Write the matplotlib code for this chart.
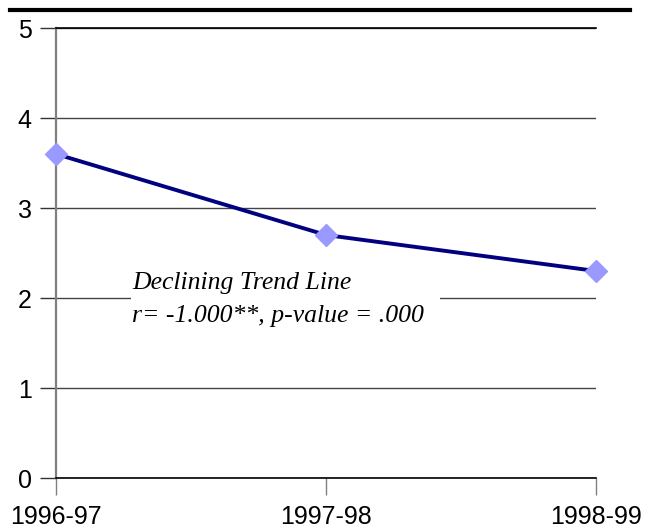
import matplotlib.pyplot as plt
from matplotlib.lines import Line2D
from matplotlib.patches import Rectangle

# chart data
years = ["1996-97", "1997-98", "1998-99"]
values = [3.6, 2.7, 2.3]
y_ticks = [0, 1, 2, 3, 4, 5]
note_lines = ["Declining Trend Line", "r= -1.000**, p-value = .000"]

W, H = 657, 531
fig = plt.figure(figsize=(W / 100, H / 100), dpi=100)
ax = fig.add_axes([56 / W, 1 - 478 / H, 540 / W, 450 / H])

x = list(range(len(years)))
ax.plot(x, values, color="#000080", linewidth=2.8, zorder=4)
ax.plot(x, values, linestyle="none", marker="D", markersize=11,
        markerfacecolor="#9999ff", markeredgecolor="#9999ff", zorder=5,
        clip_on=False)

ax.set_xlim(0, 2)
ax.set_ylim(0, 5)
ax.set_xticks(x)
ax.set_xticklabels(years)
ax.set_yticks(y_ticks)
ax.yaxis.grid(True, color="#444444", linewidth=1.0)
ax.set_axisbelow(True)

ax.spines["right"].set_visible(False)
ax.spines["top"].set_color("black")
ax.spines["bottom"].set_color("black")
ax.spines["top"].set_linewidth(1.2)
ax.spines["bottom"].set_linewidth(1.2)
ax.spines["left"].set_color("#808080")
ax.spines["left"].set_linewidth(1.6)

ax.tick_params(axis="x", direction="out", length=12, width=1.0, color="#808080",
               pad=7.5, labelsize=18)
ax.tick_params(axis="y", direction="out", length=11.5, width=1.0, color="#333333",
               pad=6, labelsize=18)
for lab in ax.get_xticklabels() + ax.get_yticklabels():
    lab.set_fontfamily("Liberation Sans")

# white patch breaking the gridline behind the note
ax.add_patch(Rectangle((0.278, 1.85), 1.146, 0.6, facecolor="white",
                       edgecolor="none", zorder=2))
for line, ypos in zip(note_lines, [2.10, 1.735]):
    ax.text(0.283, ypos, line, ha="left", va="baseline",
            fontfamily="Liberation Serif", fontstyle="italic", fontsize=18.5,
            zorder=3)

# thick rule across the top
fig.add_artist(Line2D([10 / W, 630 / W], [1 - 10 / H, 1 - 10 / H],
                      color="black", linewidth=3))

fig.savefig("out.png", dpi=100)
